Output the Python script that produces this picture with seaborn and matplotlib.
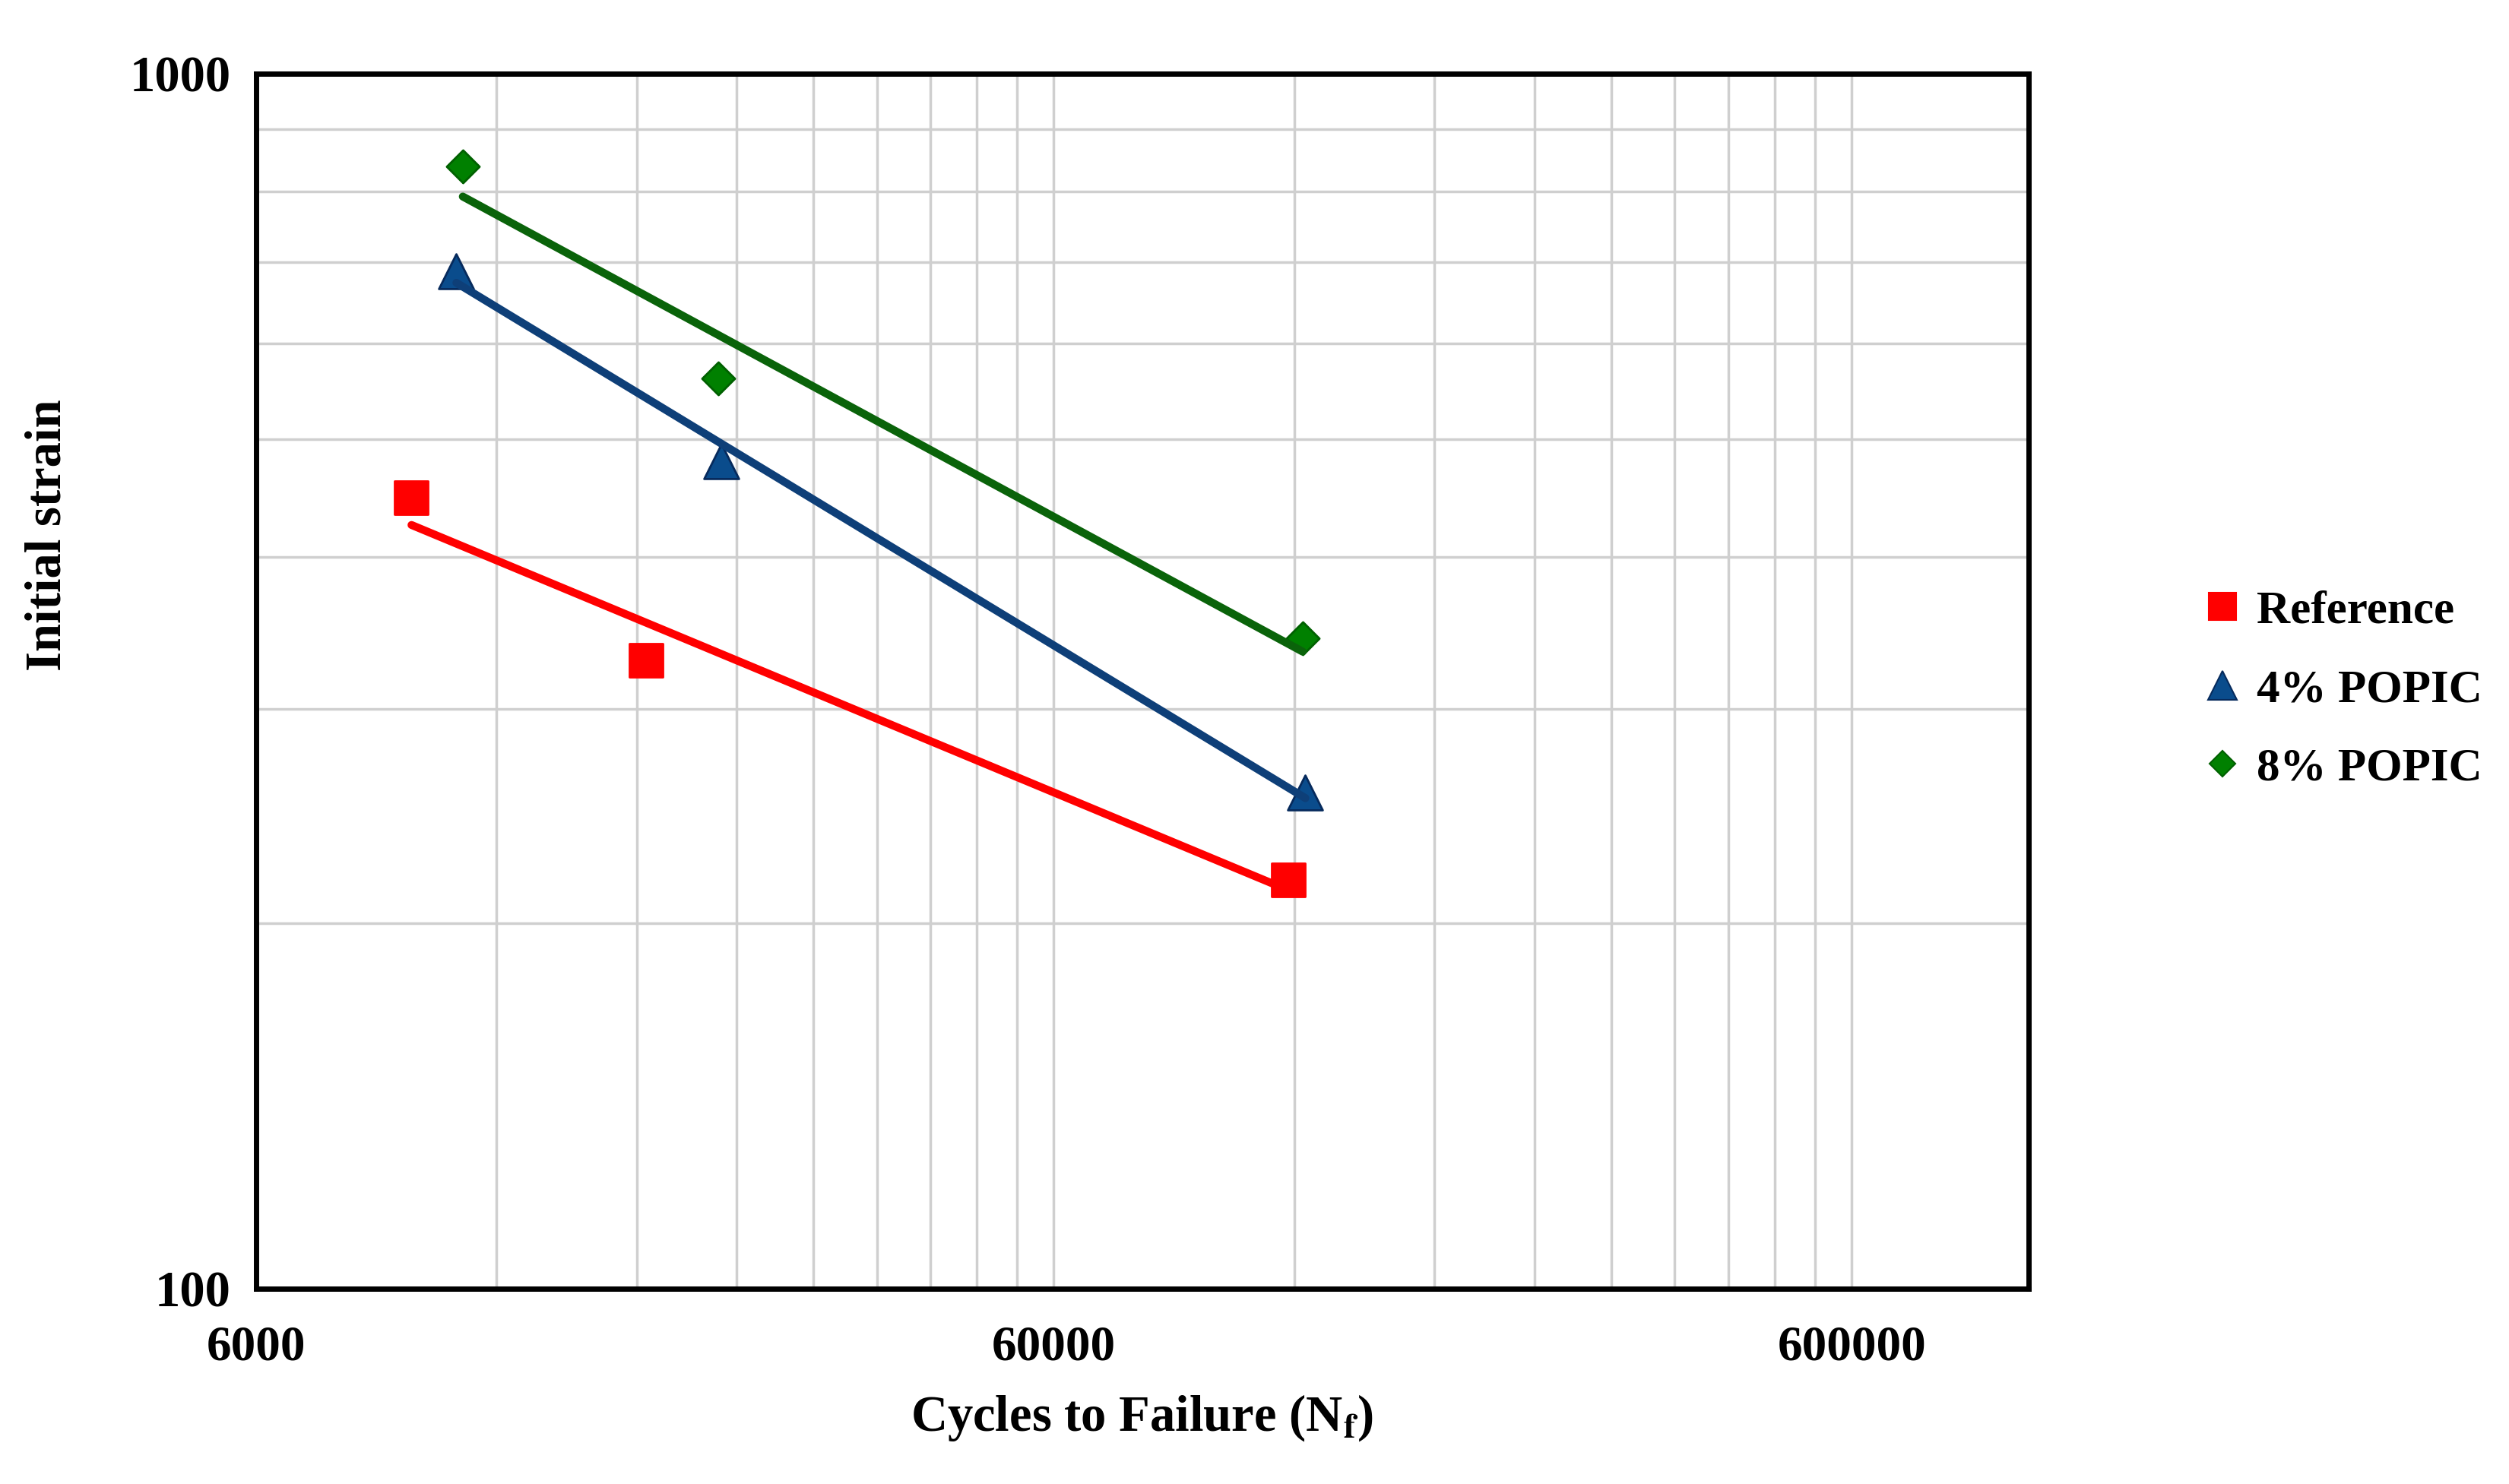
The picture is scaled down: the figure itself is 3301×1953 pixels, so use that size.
import numpy as np
import pandas as pd
import seaborn as sns
import matplotlib.pyplot as plt
from matplotlib.lines import Line2D
from matplotlib.ticker import FixedLocator, FixedFormatter, NullFormatter

# data (log-log)
series_names = ['Reference', '4% POPIC', '8% POPIC']
ref_cycles = [9400, 18500, 118000]
ref_strain = [448, 329, 217]
popic4_cycles = [10700, 23000, 124000]
popic4_strain = [688, 480, 256]
popic8_cycles = [10900, 22800, 123000]
popic8_strain = [839, 561, 343]

x_ticks = [6000, 60000, 600000]
x_tick_labels = ['6000', '60000', '600000']
y_ticks = [100, 1000]
y_tick_labels = ['100', '1000']

marker_colors = ['#ff0000', '#0a4c8c', '#008000']
edge_colors = ['#ff0000', '#062a5c', '#006000']
line_colors = ['#ff0000', '#0e3f78', '#0a630a']
markers = ['s', '^', 'D']
marker_sizes = [32, 33, 22]
legend_sizes = [26, 27, 17]

sns.set_style('white')
plt.rcParams['font.family'] = ['Liberation Serif', 'DejaVu Serif']
plt.rcParams['font.weight'] = 'bold'
plt.rcParams['mathtext.fontset'] = 'stix'
plt.rcParams['text.color'] = 'black'
plt.rcParams['axes.labelcolor'] = 'black'

fig, ax = plt.subplots(figsize=(33.01, 19.53), dpi=100)
fig.subplots_adjust(left=0.102, right=0.8086, bottom=0.1315, top=0.9504)

all_x = [ref_cycles, popic4_cycles, popic8_cycles]
all_y = [ref_strain, popic4_strain, popic8_strain]

for i, name in enumerate(series_names):
    df = pd.DataFrame({'cycles': all_x[i], 'strain': all_y[i]})
    sns.scatterplot(data=df, x='cycles', y='strain', ax=ax, marker=markers[i],
                    s=marker_sizes[i] ** 2, color=marker_colors[i],
                    edgecolor=edge_colors[i], linewidth=2, zorder=3, legend=False)

for i, name in enumerate(series_names):
    # power trendline fitted in log space, like Excel
    lx = np.log10(all_x[i])
    ly = np.log10(all_y[i])
    b, a = np.polyfit(lx, ly, 1)
    xs = np.array([min(all_x[i]), max(all_x[i])])
    fit = pd.DataFrame({'cycles': xs, 'strain': 10 ** (a + b * np.log10(xs))})
    sns.lineplot(data=fit, x='cycles', y='strain', ax=ax, color=line_colors[i],
                 linewidth=7.5, zorder=4, legend=False)

ax.set_xscale('log')
ax.set_yscale('log')
ax.set_xlim(6000, 1000000)
ax.set_ylim(100, 1000)

ax.xaxis.set_major_locator(FixedLocator(x_ticks))
ax.xaxis.set_major_formatter(FixedFormatter(x_tick_labels))
ax.xaxis.set_minor_locator(FixedLocator([6000 * k for k in range(2, 10)] +
                                        [60000 * k for k in range(2, 10)]))
ax.xaxis.set_minor_formatter(NullFormatter())
ax.yaxis.set_major_locator(FixedLocator(y_ticks))
ax.yaxis.set_major_formatter(FixedFormatter(y_tick_labels))
ax.yaxis.set_minor_locator(FixedLocator([100 * k for k in range(2, 10)]))
ax.yaxis.set_minor_formatter(NullFormatter())

ax.grid(which='both', color='#cfcfcf', linewidth=2.5)
ax.set_axisbelow(True)
for sp in ax.spines.values():
    sp.set_color('black')
    sp.set_linewidth(5)

ax.tick_params(axis='x', which='major', direction='out', length=14, width=1.5,
               pad=20, labelsize=47, colors='black')
ax.tick_params(axis='y', which='major', direction='out', length=12, width=3,
               pad=12, labelsize=48, colors='black')
ax.tick_params(which='minor', length=0)

ax.set_xlabel(r'Cycles to Failure (N$_{\mathbf{f}}$)', fontsize=48, fontweight='bold')
ax.set_ylabel('Initial strain', fontsize=48, fontweight='bold')
ax.xaxis.set_label_coords(0.5, -0.106)
ax.xaxis.label.set_va('center')
ax.yaxis.set_label_coords(-0.1175, 0.62)
ax.yaxis.label.set_va('center')
ax.yaxis.label.set_ha('center')

handles = [Line2D([], [], linestyle='none', marker=markers[i], markersize=legend_sizes[i],
                  markerfacecolor=marker_colors[i], markeredgecolor=edge_colors[i],
                  markeredgewidth=1.5) for i in range(3)]
fig.legend(handles, series_names, loc='center left', bbox_to_anchor=(0.869, 0.535),
           frameon=False, fontsize=44, handlelength=0.8, handletextpad=0.35,
           labelspacing=0.78, borderpad=0)

fig.savefig('out.png', dpi=100)
